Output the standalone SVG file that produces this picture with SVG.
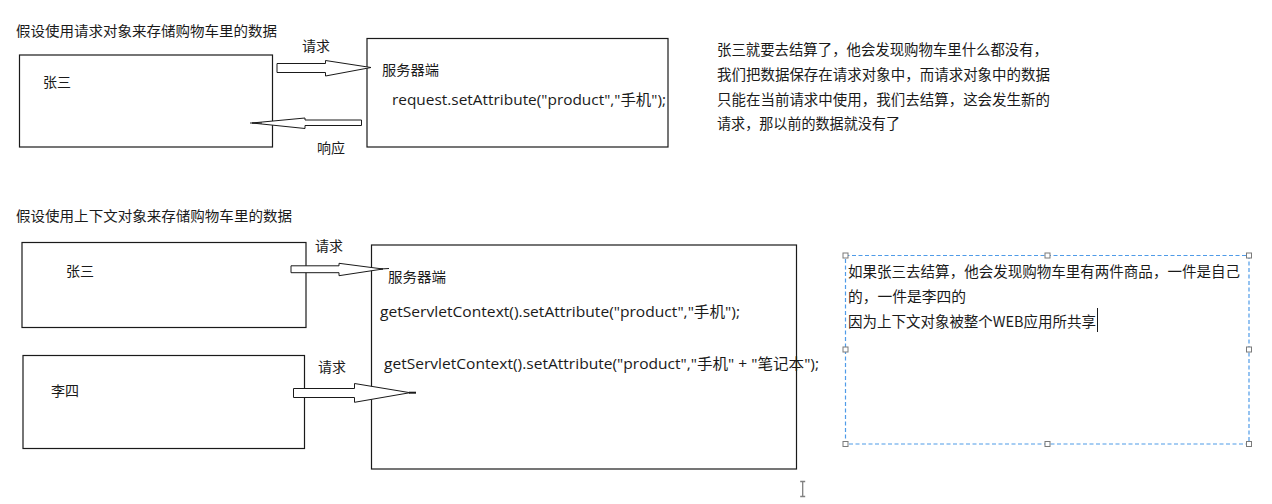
<svg xmlns="http://www.w3.org/2000/svg" width="1272" height="504" viewBox="0 0 1272 504">
<style>
  .bg { fill: #ffffff; }
  .box { fill: #ffffff; stroke: #1a1a1a; stroke-width: 1.2; }
  .t { font-family: "Noto Sans CJK SC", sans-serif; fill: #1a1a1a; font-size: 14px; }
  .code { font-family: "Open Sans", "Noto Sans CJK SC", sans-serif; fill: #1a1a1a; font-size: 15px; }
  .para { font-family: "Noto Sans CJK SC", sans-serif; fill: #1a1a1a; font-size: 14.5px; }
  .arrow { fill: #ffffff; stroke: #1a1a1a; stroke-width: 1; stroke-linejoin: miter; }
  .tipline { stroke: #1a1a1a; stroke-width: 1; }
  .sel { fill: none; stroke: #4f9be8; stroke-width: 1.2; stroke-dasharray: 4 2.5; }
  .handle { fill: #ffffff; stroke: #7a7a7a; stroke-width: 1; }
  .ibeam { stroke: #808080; stroke-width: 1.3; fill: none; }
</style>
<rect class="bg" x="0" y="0" width="1272" height="504"/>

<!-- Titles -->
<text class="t" x="16" y="36" font-size="14.5" textLength="261" lengthAdjust="spacingAndGlyphs">假设使用请求对象来存储购物车里的数据</text>
<text class="t" x="16" y="220.5" font-size="14.5" textLength="276" lengthAdjust="spacingAndGlyphs">假设使用上下文对象来存储购物车里的数据</text>

<!-- Top section nodes -->
<g id="client-zhangsan-1">
  <rect class="box" x="19.5" y="55" width="253" height="92"/>
  <text class="t" x="43" y="87">张三</text>
</g>
<g id="server-1">
  <rect class="box" x="367" y="38.5" width="301" height="108.5"/>
  <text class="t" x="382" y="75" textLength="57" lengthAdjust="spacingAndGlyphs">服务器端</text>
  <text class="code" x="392" y="105" textLength="274" lengthAdjust="spacingAndGlyphs">request.setAttribute("product","手机");</text>
</g>
<g id="note-1">
  <text class="para" x="717" y="55" textLength="331" lengthAdjust="spacingAndGlyphs">张三就要去结算了，他会发现购物车里什么都没有，</text>
  <text class="para" x="717" y="80" textLength="333" lengthAdjust="spacingAndGlyphs">我们把数据保存在请求对象中，而请求对象中的数据</text>
  <text class="para" x="717" y="104.5" textLength="333" lengthAdjust="spacingAndGlyphs">只能在当前请求中使用，我们去结算，这会发生新的</text>
  <text class="para" x="717" y="129" textLength="183" lengthAdjust="spacingAndGlyphs">请求，那以前的数据就没有了</text>
</g>

<!-- Bottom section nodes -->
<g id="client-zhangsan-2">
  <rect class="box" x="22" y="242.5" width="284" height="85"/>
  <text class="t" x="66" y="275.5">张三</text>
</g>
<g id="client-lisi">
  <rect class="box" x="23" y="355.5" width="281.5" height="93"/>
  <text class="t" x="51" y="396">李四</text>
</g>
<g id="server-2">
  <rect class="box" x="371.5" y="245" width="425" height="224"/>
  <text class="t" x="388" y="282" textLength="58" lengthAdjust="spacingAndGlyphs">服务器端</text>
  <text class="code" x="380" y="317" textLength="360" lengthAdjust="spacingAndGlyphs">getServletContext().setAttribute("product","手机");</text>
  <text class="code" x="384" y="369" textLength="435" lengthAdjust="spacingAndGlyphs">getServletContext().setAttribute("product","手机" + "笔记本");</text>
</g>
<g id="note-2">
  <rect class="sel" x="845.5" y="255.5" width="403.5" height="188.5"/>
  <rect class="handle" x="843" y="253" width="5" height="5"/>
  <rect class="handle" x="1045" y="253" width="5" height="5"/>
  <rect class="handle" x="1246.5" y="253" width="5" height="5"/>
  <rect class="handle" x="843" y="347" width="5" height="5"/>
  <rect class="handle" x="1246.5" y="347" width="5" height="5"/>
  <rect class="handle" x="843" y="441.5" width="5" height="5"/>
  <rect class="handle" x="1045" y="441.5" width="5" height="5"/>
  <rect class="handle" x="1246.5" y="441.5" width="5" height="5"/>
  <text class="para" x="848" y="276.5" textLength="392" lengthAdjust="spacingAndGlyphs">如果张三去结算，他会发现购物车里有两件商品，一件是自己</text>
  <text class="para" x="848" y="301.5" textLength="118" lengthAdjust="spacingAndGlyphs">的，一件是李四的</text>
  <text class="para" x="848" y="326.5" textLength="248" lengthAdjust="spacingAndGlyphs">因为上下文对象被整个WEB应用所共享</text>
  <line x1="1097.5" y1="308" x2="1097.5" y2="332" stroke="#1a1a1a" stroke-width="1"/>
</g>

<!-- Connectors -->
<g id="connectors">
  <g id="req-1">
    <polygon class="arrow" points="277,63.5 325.5,63.5 325.5,60.5 371,67.5 325.5,76 325.5,72.5 277,72.5"/>
    <text class="t" x="302" y="51.3">请求</text>
  </g>
  <g id="resp-1">
    <polygon class="arrow" points="361.5,120 305,120 305,118 252,123 305,128.5 305,125.5 361.5,125.5"/>
    <line class="tipline" x1="250" y1="123" x2="262" y2="123"/>
    <text class="t" x="317" y="153">响应</text>
  </g>
  <g id="req-2">
    <polygon class="arrow" points="291,265.8 339,265.8 339,263.3 383,269 339,275.7 339,272.7 291,272.7"/>
    <line class="tipline" x1="380" y1="269" x2="389" y2="268.5"/>
    <text class="t" x="315" y="250.5">请求</text>
  </g>
  <g id="req-3">
    <polygon class="arrow" points="293.5,388.5 354.5,388.5 354.5,383.5 410,392.7 354.5,402.3 354.5,397.5 293.5,397.5"/>
    <line x1="409" y1="392.7" x2="416" y2="392.7" stroke="#1a1a1a" stroke-width="2"/>
    <text class="t" x="318" y="372">请求</text>
  </g>
</g>

<!-- mouse I-beam cursor -->
<path class="ibeam" d="M802.7,481.5 V496.5 M800.2,481.5 H805.2 M800.2,496.5 H805.2"/>
</svg>
